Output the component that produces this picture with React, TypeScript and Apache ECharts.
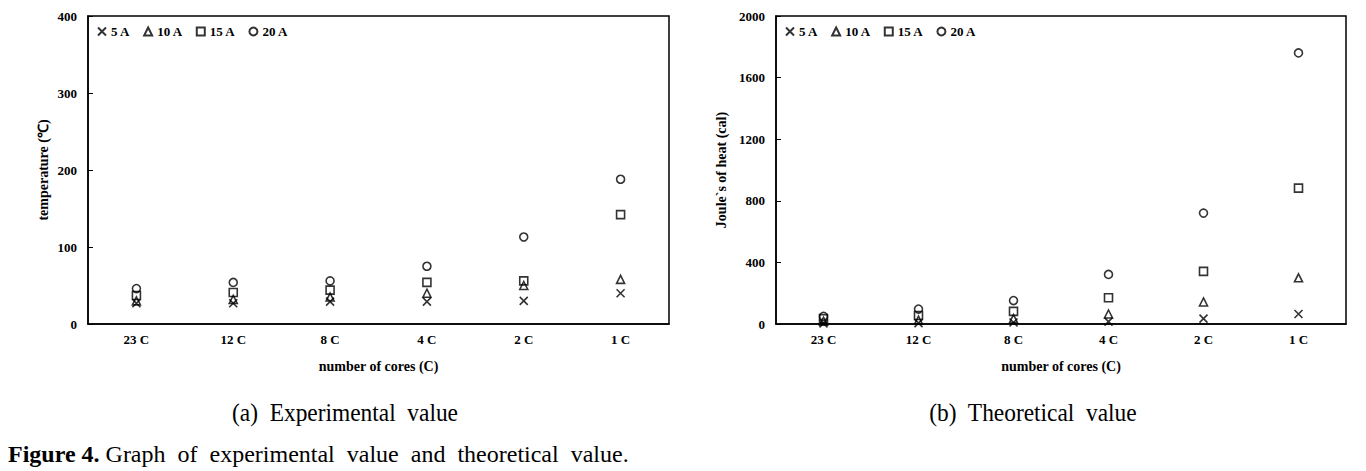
import React, { useEffect, useRef } from "react";
import * as echarts from "echarts";

const categories = ["23 C", "12 C", "8 C", "4 C", "2 C", "1 C"];
const seriesNames = ["5 A", "10 A", "15 A", "20 A"];

// (a) Experimental value – temperature (℃)
const exp5A = [27, 27, 29, 29, 30, 40];
const exp10A = [30, 32, 35, 40, 50, 58];
const exp15A = [37, 41, 44, 54, 56, 142];
const exp20A = [46, 54, 56, 75, 113, 188];

// (b) Theoretical value – Joule's heat (cal)
const th5A = [4, 6, 10, 15, 35, 65];
const th10A = [18, 25, 35, 65, 143, 300];
const th15A = [35, 55, 82, 170, 342, 882];
const th20A = [50, 97, 152, 322, 720, 1760];

const FONT = "'Liberation Serif', 'Times New Roman', serif";
const CROSS = "path://M0,0L10,10M10,0L0,10";
const symbols = [CROSS, "triangle", "rect", "circle"];
const symbolSizes = [8, 8, 8, 8];

export default function App() {
  const ref = useRef<HTMLDivElement>(null);

  useEffect(() => {
    if (!ref.current) return;
    const chart = echarts.init(ref.current, undefined, { renderer: "svg" });

    const mkSeries = (data: number[][], gridIdx: number) =>
      data.map((vals, i) => ({
        name: seriesNames[i],
        type: "scatter",
        xAxisIndex: gridIdx,
        yAxisIndex: gridIdx,
        symbol: symbols[i],
        symbolSize: symbolSizes[i],
        itemStyle: {
          color: "rgba(255,255,255,0)",
          borderColor: "#000",
          borderWidth: 1.6,
        },
        data: vals,
        z: 3 + i,
      }));

    const axisLabelStyle = {
      fontFamily: FONT,
      fontWeight: "bold" as const,
      fontSize: 13,
      color: "#000",
    };
    const titleStyle = { ...axisLabelStyle, fontSize: 14 };

    const mkX = (gridIndex: number) => ({
      type: "category",
      gridIndex,
      data: categories,
      boundaryGap: true,
      axisLine: { lineStyle: { color: "#000", width: 1.5 } },
      axisTick: { show: false },
      axisLabel: { ...axisLabelStyle, margin: 9 },
      name: "number of cores (C)",
      nameLocation: "middle",
      nameGap: 35,
      nameTextStyle: titleStyle,
      splitLine: { show: false },
    });

    const mkY = (gridIndex: number, max: number, interval: number, name: string, nameGap: number) => ({
      type: "value",
      gridIndex,
      min: 0,
      max,
      interval,
      axisLine: { show: true, lineStyle: { color: "#000", width: 1.5 } },
      axisTick: { show: true, inside: true, length: 5, lineStyle: { color: "#000" } },
      axisLabel: { ...axisLabelStyle, margin: 11, formatter: (v: number) => String(v) },
      splitLine: { show: false },
      name,
      nameLocation: "middle",
      nameRotate: 90,
      nameGap,
      nameTextStyle: titleStyle,
    });

    const legendCommon = {
      orient: "horizontal",
      top: 20,
      itemWidth: 8,
      itemHeight: 8,
      itemGap: 13,
      selectedMode: false,
      textStyle: { fontFamily: FONT, fontWeight: "bold", fontSize: 13, color: "#000" },
      data: seriesNames,
    };

    chart.setOption({
      animation: false,
      backgroundColor: "#fff",
      grid: [
        { left: 88, top: 16, width: 581, height: 308, show: true, borderColor: "#000", borderWidth: 1.5, backgroundColor: "transparent" },
        { left: 776, top: 16, width: 570, height: 308, show: true, borderColor: "#000", borderWidth: 1.5, backgroundColor: "transparent" },
      ],
      legend: [
        { ...legendCommon, left: 92 },
        { ...legendCommon, left: 780 },
      ],
      xAxis: [mkX(0), mkX(1)],
      yAxis: [
        mkY(0, 400, 100, "temperature (\u2103)", 38),
        mkY(1, 2000, 400, "Joule`s of heat (cal)", 48),
      ],
      series: [
        ...mkSeries([exp5A, exp10A, exp15A, exp20A], 0),
        ...mkSeries([th5A, th10A, th15A, th20A], 1),
      ],
      graphic: [
        {
          type: "text",
          x: 345,
          y: 412,
          scaleX: 0.9,
          style: {
            text: "(a)  Experimental  value",
            font: `26px ${FONT}`,
            fill: "#000",
            align: "center",
            verticalAlign: "middle",
          },
        },
        {
          type: "text",
          x: 1033,
          y: 412,
          scaleX: 0.9,
          style: {
            text: "(b)  Theoretical  value",
            font: `26px ${FONT}`,
            fill: "#000",
            align: "center",
            verticalAlign: "middle",
          },
        },
        {
          type: "text",
          x: 8,
          y: 454,
          style: {
            text: "{b|Figure 4.} Graph  of  experimental  value  and  theoretical  value.",
            font: `24px ${FONT}`,
            fill: "#000",
            verticalAlign: "middle",
            rich: {
              b: { fontFamily: FONT, fontSize: 24, fontWeight: "bold", fill: "#000" },
            },
          },
        },
      ],
    });

    return () => chart.dispose();
  }, []);

  return (
    <div
      ref={ref}
      style={{ position: "absolute", left: 0, top: 0, width: 1366, height: 471 }}
    />
  );
}
